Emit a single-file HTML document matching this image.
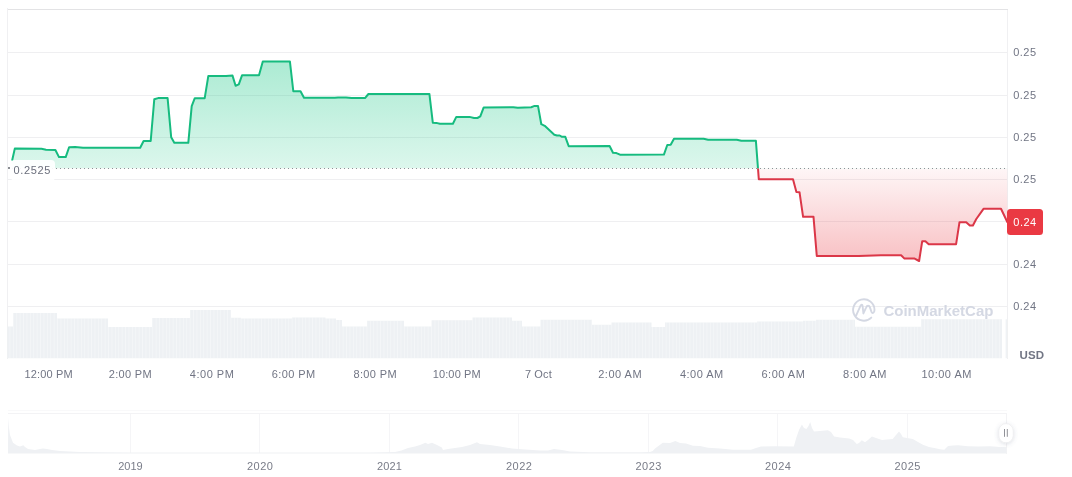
<!DOCTYPE html>
<html lang="en">
<head>
<meta charset="utf-8">
<title>CoinMarketCap price chart</title>
<style>
html,body{margin:0;padding:0;background:#fff;}
body{width:1072px;height:477px;overflow:hidden;font-family:"Liberation Sans",sans-serif;}
svg{display:block;}
svg text{font-family:"Liberation Sans",sans-serif;}
.t{font-size:11px;letter-spacing:0.14px;}
.n{font-size:11px;letter-spacing:0.5px;}
.am{font-size:11px;letter-spacing:0.5px;}
.b{font-size:11.5px;font-weight:bold;letter-spacing:0.1px;}
.w{font-size:15px;font-weight:bold;letter-spacing:0;}
</style>
</head>
<body>
<svg width="1072" height="477" viewBox="0 0 1072 477">
<defs>
<linearGradient id="gg" gradientUnits="userSpaceOnUse" x1="0" y1="60" x2="0" y2="168.5"><stop offset="0" stop-color="#16c784" stop-opacity="0.36"/><stop offset="1" stop-color="#16c784" stop-opacity="0.15"/></linearGradient>
<linearGradient id="rg" gradientUnits="userSpaceOnUse" x1="0" y1="168.5" x2="0" y2="262"><stop offset="0" stop-color="#ea3943" stop-opacity="0.045"/><stop offset="1" stop-color="#ea3943" stop-opacity="0.32"/></linearGradient>
<clipPath id="cu"><rect x="0" y="0" width="1072" height="168.5"/></clipPath>
<clipPath id="cd"><rect x="0" y="168.5" width="1072" height="477"/></clipPath>
<filter id="sh" x="-100%" y="-100%" width="300%" height="300%"><feDropShadow dx="0" dy="1" stdDeviation="2" flood-color="#58667e" flood-opacity="0.22"/></filter>
<pattern id="vs" patternUnits="userSpaceOnUse" x="12.9" y="0" width="3.4" height="477"><rect x="0" y="0" width="0.6" height="477" fill="#fff" fill-opacity="0.5"/></pattern>
</defs>
<rect width="1072" height="477" fill="#fff"/>
<g stroke="#efeff1" stroke-width="1" shape-rendering="crispEdges">
<line x1="7.5" x2="1007.5" y1="52.5" y2="52.5"/>
<line x1="7.5" x2="1007.5" y1="95.5" y2="95.5"/>
<line x1="7.5" x2="1007.5" y1="137.5" y2="137.5"/>
<line x1="7.5" x2="1007.5" y1="179.5" y2="179.5"/>
<line x1="7.5" x2="1007.5" y1="221.5" y2="221.5"/>
<line x1="7.5" x2="1007.5" y1="264.5" y2="264.5"/>
<line x1="7.5" x2="1007.5" y1="306.5" y2="306.5"/>
</g>
<g stroke-width="1" fill="none" shape-rendering="crispEdges">
<path d="M7.5 358.5V8M1007.5 9V358.5" stroke="#f0f0f2"/>
<path d="M8 9.5H1008" stroke="#e3e3e5"/>
</g>
<path d="M7.5 358.2V326.4H13V358.2ZM13 358.2V313H57V358.2ZM57 358.2V318.5H108V358.2ZM108 358.2V326.9H152V358.2ZM152 358.2V318.1H190V358.2ZM190 358.2V310H231V358.2ZM231 358.2V317.8H241V358.2ZM241 358.2V318.5H292V358.2ZM292 358.2V317.4H325.5V358.2ZM325.5 358.2V318.5H336V358.2ZM336 358.2V320H342V358.2ZM342 358.2V326.4H367V358.2ZM367 358.2V320.8H404V358.2ZM404 358.2V326.4H431.5V358.2ZM431.5 358.2V320.3H472.5V358.2ZM472.5 358.2V317.4H512V358.2ZM512 358.2V320.8H522V358.2ZM522 358.2V326.4H540.5V358.2ZM540.5 358.2V319.7H592V358.2ZM592 358.2V324.8H611.5V358.2ZM611.5 358.2V322.6H651.5V358.2ZM651.5 358.2V326.9H665V358.2ZM665 358.2V322.4H757V358.2ZM757 358.2V321.5H803V358.2ZM803 358.2V320.8H816V358.2ZM816 358.2V319.7H855V358.2ZM855 358.2V326.7H921V358.2ZM921 358.2V319.3H1002V358.2Z" fill="#eef1f4"/>
<path d="M7.5 358.2V326.4H13V358.2ZM13 358.2V313H57V358.2ZM57 358.2V318.5H108V358.2ZM108 358.2V326.9H152V358.2ZM152 358.2V318.1H190V358.2ZM190 358.2V310H231V358.2ZM231 358.2V317.8H241V358.2ZM241 358.2V318.5H292V358.2ZM292 358.2V317.4H325.5V358.2ZM325.5 358.2V318.5H336V358.2ZM336 358.2V320H342V358.2ZM342 358.2V326.4H367V358.2ZM367 358.2V320.8H404V358.2ZM404 358.2V326.4H431.5V358.2ZM431.5 358.2V320.3H472.5V358.2ZM472.5 358.2V317.4H512V358.2ZM512 358.2V320.8H522V358.2ZM522 358.2V326.4H540.5V358.2ZM540.5 358.2V319.7H592V358.2ZM592 358.2V324.8H611.5V358.2ZM611.5 358.2V322.6H651.5V358.2ZM651.5 358.2V326.9H665V358.2ZM665 358.2V322.4H757V358.2ZM757 358.2V321.5H803V358.2ZM803 358.2V320.8H816V358.2ZM816 358.2V319.7H855V358.2ZM855 358.2V326.7H921V358.2ZM921 358.2V319.3H1002V358.2Z" fill="url(#vs)"/>
<rect x="1005.6" y="319.3" width="1.6" height="38.9" fill="#eff2f5"/>
<path d="M12.3 159.8 L14.8 148.6 L41.5 148.8 L46.0 149.7 L55.4 150.0 L59.0 157.1 L65.7 157.1 L69.1 147.2 L75.1 147.0 L83.0 147.8 L140.2 147.8 L143.6 141.0 L150.7 141.0 L154.3 99.2 L158.1 98.1 L167.6 98.1 L171.2 137.3 L174.3 142.8 L188.3 142.8 L191.7 106.2 L194.8 98.2 L204.7 98.2 L208.3 76.1 L226.0 76.1 L232.5 75.6 L235.6 85.7 L238.8 84.4 L242.1 75.2 L259.0 75.2 L262.8 61.6 L269.7 61.4 L289.9 61.4 L293.3 91.2 L300.5 91.2 L304.0 97.8 L334.8 97.8 L338.0 97.4 L346.0 97.4 L351.6 98.1 L365.0 98.1 L368.4 94.0 L429.4 93.9 L432.8 122.7 L436.3 122.9 L439.9 123.8 L452.9 123.8 L456.3 116.9 L469.5 116.9 L474.0 118.0 L477.4 118.0 L480.3 116.4 L483.7 107.4 L513.3 107.2 L517.8 107.7 L531.2 107.2 L534.6 105.9 L538.0 105.9 L541.3 124.2 L544.7 125.8 L554.3 134.8 L557.0 135.5 L559.7 135.5 L562.0 136.8 L565.3 136.8 L568.7 146.2 L609.6 146.0 L613.0 152.8 L616.4 153.1 L620.0 154.7 L663.9 154.6 L667.3 145.0 L670.7 144.7 L674.0 138.7 L703.6 138.7 L708.1 139.8 L736.8 139.8 L741.3 140.8 L755.9 140.8 L758.8 179.2 L793.0 179.2 L796.4 192.1 L799.5 192.2 L803.1 216.8 L813.5 216.8 L816.8 256.0 L858.5 256.0 L880.9 255.2 L901.1 255.2 L904.5 258.6 L914.6 258.6 L919.1 261.0 L922.2 241.3 L925.4 241.3 L928.7 244.2 L956.1 244.2 L959.5 222.2 L966.2 222.2 L969.8 225.5 L972.9 225.5 L976.3 219.0 L983.5 208.8 L1001.0 208.8 L1007.3 222.0 L1007.3 168.5 L12.3 168.5 Z" fill="url(#gg)" clip-path="url(#cu)"/>
<path d="M12.3 159.8 L14.8 148.6 L41.5 148.8 L46.0 149.7 L55.4 150.0 L59.0 157.1 L65.7 157.1 L69.1 147.2 L75.1 147.0 L83.0 147.8 L140.2 147.8 L143.6 141.0 L150.7 141.0 L154.3 99.2 L158.1 98.1 L167.6 98.1 L171.2 137.3 L174.3 142.8 L188.3 142.8 L191.7 106.2 L194.8 98.2 L204.7 98.2 L208.3 76.1 L226.0 76.1 L232.5 75.6 L235.6 85.7 L238.8 84.4 L242.1 75.2 L259.0 75.2 L262.8 61.6 L269.7 61.4 L289.9 61.4 L293.3 91.2 L300.5 91.2 L304.0 97.8 L334.8 97.8 L338.0 97.4 L346.0 97.4 L351.6 98.1 L365.0 98.1 L368.4 94.0 L429.4 93.9 L432.8 122.7 L436.3 122.9 L439.9 123.8 L452.9 123.8 L456.3 116.9 L469.5 116.9 L474.0 118.0 L477.4 118.0 L480.3 116.4 L483.7 107.4 L513.3 107.2 L517.8 107.7 L531.2 107.2 L534.6 105.9 L538.0 105.9 L541.3 124.2 L544.7 125.8 L554.3 134.8 L557.0 135.5 L559.7 135.5 L562.0 136.8 L565.3 136.8 L568.7 146.2 L609.6 146.0 L613.0 152.8 L616.4 153.1 L620.0 154.7 L663.9 154.6 L667.3 145.0 L670.7 144.7 L674.0 138.7 L703.6 138.7 L708.1 139.8 L736.8 139.8 L741.3 140.8 L755.9 140.8 L758.8 179.2 L793.0 179.2 L796.4 192.1 L799.5 192.2 L803.1 216.8 L813.5 216.8 L816.8 256.0 L858.5 256.0 L880.9 255.2 L901.1 255.2 L904.5 258.6 L914.6 258.6 L919.1 261.0 L922.2 241.3 L925.4 241.3 L928.7 244.2 L956.1 244.2 L959.5 222.2 L966.2 222.2 L969.8 225.5 L972.9 225.5 L976.3 219.0 L983.5 208.8 L1001.0 208.8 L1007.3 222.0 L1007.3 168.5 L12.3 168.5 Z" fill="url(#rg)" clip-path="url(#cd)"/>
<line x1="8" x2="1007.5" y1="168.5" y2="168.5" stroke="#8e9197" stroke-width="1" stroke-dasharray="1 3" shape-rendering="crispEdges"/>
<path d="M12.3 159.8 L14.8 148.6 L41.5 148.8 L46.0 149.7 L55.4 150.0 L59.0 157.1 L65.7 157.1 L69.1 147.2 L75.1 147.0 L83.0 147.8 L140.2 147.8 L143.6 141.0 L150.7 141.0 L154.3 99.2 L158.1 98.1 L167.6 98.1 L171.2 137.3 L174.3 142.8 L188.3 142.8 L191.7 106.2 L194.8 98.2 L204.7 98.2 L208.3 76.1 L226.0 76.1 L232.5 75.6 L235.6 85.7 L238.8 84.4 L242.1 75.2 L259.0 75.2 L262.8 61.6 L269.7 61.4 L289.9 61.4 L293.3 91.2 L300.5 91.2 L304.0 97.8 L334.8 97.8 L338.0 97.4 L346.0 97.4 L351.6 98.1 L365.0 98.1 L368.4 94.0 L429.4 93.9 L432.8 122.7 L436.3 122.9 L439.9 123.8 L452.9 123.8 L456.3 116.9 L469.5 116.9 L474.0 118.0 L477.4 118.0 L480.3 116.4 L483.7 107.4 L513.3 107.2 L517.8 107.7 L531.2 107.2 L534.6 105.9 L538.0 105.9 L541.3 124.2 L544.7 125.8 L554.3 134.8 L557.0 135.5 L559.7 135.5 L562.0 136.8 L565.3 136.8 L568.7 146.2 L609.6 146.0 L613.0 152.8 L616.4 153.1 L620.0 154.7 L663.9 154.6 L667.3 145.0 L670.7 144.7 L674.0 138.7 L703.6 138.7 L708.1 139.8 L736.8 139.8 L741.3 140.8 L755.9 140.8 L758.8 179.2 L793.0 179.2 L796.4 192.1 L799.5 192.2 L803.1 216.8 L813.5 216.8 L816.8 256.0 L858.5 256.0 L880.9 255.2 L901.1 255.2 L904.5 258.6 L914.6 258.6 L919.1 261.0 L922.2 241.3 L925.4 241.3 L928.7 244.2 L956.1 244.2 L959.5 222.2 L966.2 222.2 L969.8 225.5 L972.9 225.5 L976.3 219.0 L983.5 208.8 L1001.0 208.8 L1007.3 222.0" fill="none" stroke="#16bb7f" stroke-width="2" stroke-linejoin="round" stroke-linecap="round" clip-path="url(#cu)"/>
<path d="M12.3 159.8 L14.8 148.6 L41.5 148.8 L46.0 149.7 L55.4 150.0 L59.0 157.1 L65.7 157.1 L69.1 147.2 L75.1 147.0 L83.0 147.8 L140.2 147.8 L143.6 141.0 L150.7 141.0 L154.3 99.2 L158.1 98.1 L167.6 98.1 L171.2 137.3 L174.3 142.8 L188.3 142.8 L191.7 106.2 L194.8 98.2 L204.7 98.2 L208.3 76.1 L226.0 76.1 L232.5 75.6 L235.6 85.7 L238.8 84.4 L242.1 75.2 L259.0 75.2 L262.8 61.6 L269.7 61.4 L289.9 61.4 L293.3 91.2 L300.5 91.2 L304.0 97.8 L334.8 97.8 L338.0 97.4 L346.0 97.4 L351.6 98.1 L365.0 98.1 L368.4 94.0 L429.4 93.9 L432.8 122.7 L436.3 122.9 L439.9 123.8 L452.9 123.8 L456.3 116.9 L469.5 116.9 L474.0 118.0 L477.4 118.0 L480.3 116.4 L483.7 107.4 L513.3 107.2 L517.8 107.7 L531.2 107.2 L534.6 105.9 L538.0 105.9 L541.3 124.2 L544.7 125.8 L554.3 134.8 L557.0 135.5 L559.7 135.5 L562.0 136.8 L565.3 136.8 L568.7 146.2 L609.6 146.0 L613.0 152.8 L616.4 153.1 L620.0 154.7 L663.9 154.6 L667.3 145.0 L670.7 144.7 L674.0 138.7 L703.6 138.7 L708.1 139.8 L736.8 139.8 L741.3 140.8 L755.9 140.8 L758.8 179.2 L793.0 179.2 L796.4 192.1 L799.5 192.2 L803.1 216.8 L813.5 216.8 L816.8 256.0 L858.5 256.0 L880.9 255.2 L901.1 255.2 L904.5 258.6 L914.6 258.6 L919.1 261.0 L922.2 241.3 L925.4 241.3 L928.7 244.2 L956.1 244.2 L959.5 222.2 L966.2 222.2 L969.8 225.5 L972.9 225.5 L976.3 219.0 L983.5 208.8 L1001.0 208.8 L1007.3 222.0" fill="none" stroke="#db3748" stroke-width="2" stroke-linejoin="round" stroke-linecap="round" clip-path="url(#cd)"/>
<rect x="11" y="160" width="44" height="21" rx="4" fill="#fff" fill-opacity="0.92"/>
<rect x="8" y="167" width="2" height="2" fill="#8a8d92" shape-rendering="crispEdges"/>
<text x="13.6" y="174.1" class="n" style="letter-spacing:0.62px" fill="#6a6e7b">0.2525</text>
<text x="1013.2" y="56.1" class="n" fill="#717584">0.25</text>
<text x="1013.2" y="99.1" class="n" fill="#717584">0.25</text>
<text x="1013.2" y="141.1" class="n" fill="#717584">0.25</text>
<text x="1013.2" y="183.1" class="n" fill="#717584">0.25</text>
<text x="1013.2" y="268.1" class="n" fill="#717584">0.24</text>
<text x="1013.2" y="310.1" class="n" fill="#717584">0.24</text>
<rect x="1007" y="209" width="36" height="26" rx="3.5" fill="#ea3943"/>
<text x="1013.3" y="226.1" class="n" fill="#fff">0.24</text>
<text x="1019.5" y="358.8" class="b" fill="#717584">USD</text>
<text x="48.67" y="378.2" class="t" style="letter-spacing:0.14px" text-anchor="middle" fill="#717584">12:00 PM</text>
<text x="130.37" y="378.2" class="t" style="letter-spacing:0.3px" text-anchor="middle" fill="#717584">2:00 PM</text>
<text x="212.09" y="378.2" class="t" style="letter-spacing:0.5px" text-anchor="middle" fill="#717584">4:00 PM</text>
<text x="293.67" y="378.2" class="t" style="letter-spacing:0.42px" text-anchor="middle" fill="#717584">6:00 PM</text>
<text x="375.27" y="378.2" class="t" style="letter-spacing:0.38px" text-anchor="middle" fill="#717584">8:00 PM</text>
<text x="456.77" y="378.2" class="t" style="letter-spacing:0.14px" text-anchor="middle" fill="#717584">10:00 PM</text>
<text x="538.39" y="378.2" class="t" style="letter-spacing:0.14px" text-anchor="middle" fill="#717584">7 Oct</text>
<text x="620.19" y="378.2" class="t" style="letter-spacing:0.5px" text-anchor="middle" fill="#717584">2:00 AM</text>
<text x="701.81" y="378.2" class="t" style="letter-spacing:0.5px" text-anchor="middle" fill="#717584">4:00 AM</text>
<text x="783.43" y="378.2" class="t" style="letter-spacing:0.5px" text-anchor="middle" fill="#717584">6:00 AM</text>
<text x="865.05" y="378.2" class="t" style="letter-spacing:0.5px" text-anchor="middle" fill="#717584">8:00 AM</text>
<text x="946.67" y="378.2" class="t" style="letter-spacing:0.5px" text-anchor="middle" fill="#717584">10:00 AM</text>
<g opacity="0.9">
<g fill="none" stroke="#d0d4e0" stroke-width="1.9" stroke-linecap="round" stroke-linejoin="round">
<path d="M871.3 317.6 A10.7 10.7 0 1 1 874.5 310 C874.5 312.8 872.4 313.9 871.5 311.9 L869.9 307.4 C869.2 305.3 867 305.2 866.2 307.3 L863.4 313.4 L862.6 306 C862.4 304.4 861.2 304.3 860.6 305.7 L856.2 315.4"/>
</g>
<text x="883.4" y="316" class="w" fill="#d0d4e0">CoinMarketCap</text>
</g>
<g stroke="#f3f3f5" stroke-width="1" shape-rendering="crispEdges" fill="none">
<line x1="8" x2="1007" y1="410.5" y2="410.5" stroke="#f9f9fa"/>
<line x1="8" x2="1007" y1="413.5" y2="413.5"/>
<line x1="130.5" x2="130.5" y1="414" y2="453" stroke="#f5f5f7"/>
<line x1="259.5" x2="259.5" y1="414" y2="453" stroke="#f5f5f7"/>
<line x1="389.5" x2="389.5" y1="414" y2="453" stroke="#f5f5f7"/>
<line x1="518.5" x2="518.5" y1="414" y2="453" stroke="#f5f5f7"/>
<line x1="648.5" x2="648.5" y1="414" y2="453" stroke="#f5f5f7"/>
<line x1="777.5" x2="777.5" y1="414" y2="453" stroke="#f5f5f7"/>
<line x1="907.5" x2="907.5" y1="414" y2="453" stroke="#f5f5f7"/>
<line x1="1006.5" x2="1006.5" y1="413" y2="453.5"/>
</g>
<path d="M8.0 453.5 L8.2 417.6 L9.0 428.0 L10.0 435.0 L13.0 442.8 L17.0 445.5 L20.0 446.5 L23.3 445.3 L25.0 447.0 L28.0 449.0 L35.0 450.0 L40.0 449.0 L43.0 448.5 L47.0 449.0 L52.0 450.0 L60.0 451.0 L80.0 452.0 L130.0 452.4 L250.0 452.6 L370.0 452.4 L395.0 452.0 L401.5 450.5 L408.0 448.0 L415.0 446.5 L420.0 445.0 L425.4 442.8 L428.0 444.0 L432.0 442.8 L437.0 445.0 L441.8 447.5 L443.0 450.0 L448.0 449.0 L455.0 448.0 L462.0 447.0 L470.0 445.0 L477.0 442.3 L480.0 444.0 L490.0 445.0 L500.0 446.5 L512.0 448.5 L525.0 449.5 L540.0 450.5 L548.0 450.5 L554.0 449.0 L562.0 450.0 L570.0 451.5 L590.0 452.3 L640.0 452.3 L650.0 452.0 L652.7 451.0 L655.0 448.5 L662.8 442.8 L670.0 443.0 L675.4 441.0 L680.0 443.0 L686.0 443.5 L693.0 445.8 L700.0 446.0 L708.0 447.8 L720.0 448.5 L733.0 449.8 L751.0 449.8 L756.0 448.0 L761.0 446.6 L775.0 446.2 L793.8 446.6 L796.3 437.7 L799.0 430.0 L801.9 424.6 L804.0 428.0 L806.4 428.9 L808.5 426.0 L810.2 422.1 L812.0 428.0 L814.0 431.4 L820.0 431.0 L827.8 430.2 L831.0 432.0 L834.1 436.5 L840.0 437.5 L849.2 438.5 L853.0 440.0 L856.8 444.0 L859.0 443.0 L861.8 440.3 L865.0 442.3 L868.0 440.0 L871.9 436.5 L876.0 438.0 L882.0 440.0 L887.0 439.5 L892.7 439.0 L896.0 435.0 L899.0 431.4 L901.0 434.0 L902.8 437.2 L907.0 438.0 L912.8 439.0 L918.0 442.0 L922.9 444.8 L929.0 447.0 L935.5 448.3 L940.0 449.3 L944.3 449.8 L946.0 448.0 L948.1 446.0 L953.0 445.5 L958.2 445.3 L968.0 446.2 L978.3 446.6 L990.0 446.3 L1000.0 447.0 L1006.5 447.3 L1006.5 453.5Z" fill="#eff1f4"/>
<text x="130.50" y="470.3" class="n" style="letter-spacing:0.0px" text-anchor="middle" fill="#797c88">2019</text>
<text x="260.25" y="470.3" class="n" style="letter-spacing:0.5px" text-anchor="middle" fill="#797c88">2020</text>
<text x="389.55" y="470.3" class="n" style="letter-spacing:0.1px" text-anchor="middle" fill="#797c88">2021</text>
<text x="519.25" y="470.3" class="n" style="letter-spacing:0.5px" text-anchor="middle" fill="#797c88">2022</text>
<text x="648.75" y="470.3" class="n" style="letter-spacing:0.5px" text-anchor="middle" fill="#797c88">2023</text>
<text x="778.25" y="470.3" class="n" style="letter-spacing:0.5px" text-anchor="middle" fill="#797c88">2024</text>
<text x="907.75" y="470.3" class="n" style="letter-spacing:0.5px" text-anchor="middle" fill="#797c88">2025</text>
<rect x="998.8" y="423.6" width="14.4" height="19.2" rx="7.2" fill="#fff" stroke="#e9eaed" stroke-width="0.6" filter="url(#sh)"/>
<path d="M1004.5 429V436.8M1007.3 429V436.8" stroke="#85868c" stroke-width="0.9" fill="none"/>
</svg>
</body>
</html>
